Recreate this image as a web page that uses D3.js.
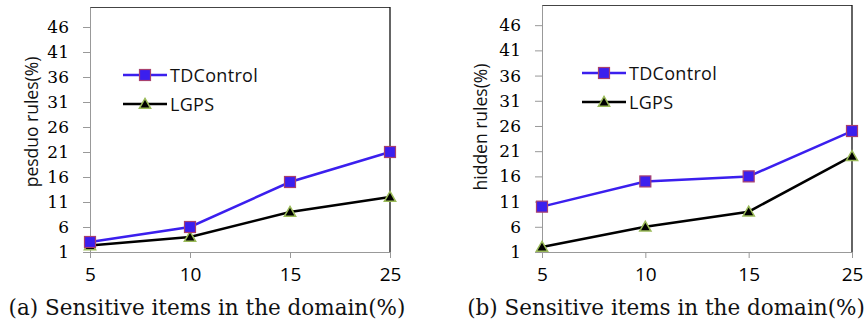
<!DOCTYPE html>
<html>
<head>
<meta charset="utf-8">
<script src="https://cdn.jsdelivr.net/npm/d3@7"></script>
<style>
  body { margin: 0; background: #fff; }
  svg { display: block; }
</style>
</head>
<body>
<svg id="chart" width="868" height="327"></svg>
<script>
const categories = ['5', '10', '15', '25'];
const yTicks = [1, 6, 11, 16, 21, 26, 31, 36, 41, 46];
const seriesNames = ['TDControl', 'LGPS'];

// (a) pesduo rules
const pseudoTD = [3, 6, 15, 21];
const pseudoLGPS = [2.3, 4, 9, 12];

// (b) hidden rules
const hiddenTD = [10, 15, 16, 25];
const hiddenLGPS = [2, 6, 9, 20];

const svg = d3.select('#chart');

const panels = [
  { left: 90, right: 390, top: 7, bottom: 252, title: 'pesduo rules(%)', titleX: 32, titleY: 122,
    caption: '(a) Sensitive items in the domain(%)', capX: 207, legX: 123, legY: 75,
    td: pseudoTD, lg: pseudoLGPS },
  { left: 542, right: 852, top: 5, bottom: 252, title: 'hidden rules(%)', titleX: 481, titleY: 127,
    caption: '(b) Sensitive items in the domain(%)', capX: 666, legX: 582, legY: 73,
    td: hiddenTD, lg: hiddenLGPS }
];

const tdColor = '#3b1fee';
const tdStroke = '#a8406e';
const lgColor = '#000';
const lgStroke = '#9bbb59';

function drawSquare(g, x, y) {
  g.append('rect')
    .attr('x', x - 5.5).attr('y', y - 5.5)
    .attr('width', 11).attr('height', 11)
    .attr('fill', tdColor).attr('stroke', tdStroke).attr('stroke-width', 1.2);
}
function drawTriangle(g, x, y) {
  g.append('path')
    .attr('d', d3.symbol(d3.symbolTriangle, 55)())
    .attr('transform', `translate(${x},${y + 1})`)
    .attr('fill', lgColor).attr('stroke', lgStroke).attr('stroke-width', 1.5);
}

panels.forEach(p => {
  const x = d3.scalePoint().domain(categories).range([p.left, p.right]);
  const y = d3.scaleLinear().domain([1, 50]).range([p.bottom, p.top]);
  const g = svg.append('g');

  // frame: top and right edges
  g.append('line').attr('x1', p.left).attr('x2', p.right).attr('y1', p.top + 0.5).attr('y2', p.top + 0.5)
    .attr('stroke', '#444').attr('stroke-width', 1);
  g.append('line').attr('x1', p.right).attr('x2', p.right).attr('y1', p.top).attr('y2', p.bottom)
    .attr('stroke', '#111').attr('stroke-width', 1.3);

  // y axis
  const ya = g.append('g').attr('transform', `translate(${p.left},0)`)
    .call(d3.axisLeft(y).tickValues(yTicks).tickSize(7).tickPadding(14).tickSizeOuter(0));
  ya.select('.domain').attr('stroke', '#999');
  ya.selectAll('.tick line').attr('stroke', '#999');
  ya.selectAll('.tick text').style('font-family', 'DejaVu Serif').style('font-size', '17px').attr('fill', '#000');

  // x axis
  const xa = g.append('g').attr('transform', `translate(0,${p.bottom})`)
    .call(d3.axisBottom(x).tickSize(6).tickPadding(10).tickSizeOuter(0));
  xa.select('.domain').attr('stroke', '#999');
  xa.selectAll('.tick line').attr('stroke', '#999');
  xa.selectAll('.tick text').style('font-family', 'Open Sans').style('font-size', '19px').attr('fill', '#000');

  // lines
  const line = d3.line().x((d, i) => x(categories[i])).y(d => y(d));
  g.append('path').datum(p.lg).attr('d', line).attr('fill', 'none')
    .attr('stroke', lgColor).attr('stroke-width', 2.5);
  g.append('path').datum(p.td).attr('d', line).attr('fill', 'none')
    .attr('stroke', tdColor).attr('stroke-width', 2.5);
  p.lg.forEach((v, i) => drawTriangle(g, x(categories[i]), y(v)));
  p.td.forEach((v, i) => drawSquare(g, x(categories[i]), y(v)));

  // legend
  const lw = 44;
  [[tdColor, drawSquare, 0], [lgColor, drawTriangle, 29]].forEach(([c, mk, dy], k) => {
    const ly = p.legY + dy;
    g.append('line').attr('x1', p.legX).attr('x2', p.legX + lw).attr('y1', ly).attr('y2', ly)
      .attr('stroke', c).attr('stroke-width', 2.5);
    mk(g, p.legX + lw / 2, ly);
    g.append('text').attr('x', p.legX + lw + 3).attr('y', ly + 6.5)
      .attr('font-family', 'Open Sans').attr('font-size', 18).attr('letter-spacing', 0.3)
      .attr('fill', '#111').text(seriesNames[k]);
  });

  // axis title
  g.append('text').attr('transform', `translate(${p.titleX},${p.titleY}) rotate(-90)`)
    .attr('text-anchor', 'middle').attr('dy', '0.35em')
    .attr('font-family', 'Open Sans').attr('font-size', 17.5).attr('fill', '#111')
    .text(p.title);

  // caption
  g.append('text').attr('x', p.capX).attr('y', 315).attr('text-anchor', 'middle')
    .attr('font-family', 'DejaVu Serif').attr('font-size', 21.5).attr('fill', '#111')
    .text(p.caption);
});
</script>
</body>
</html>
